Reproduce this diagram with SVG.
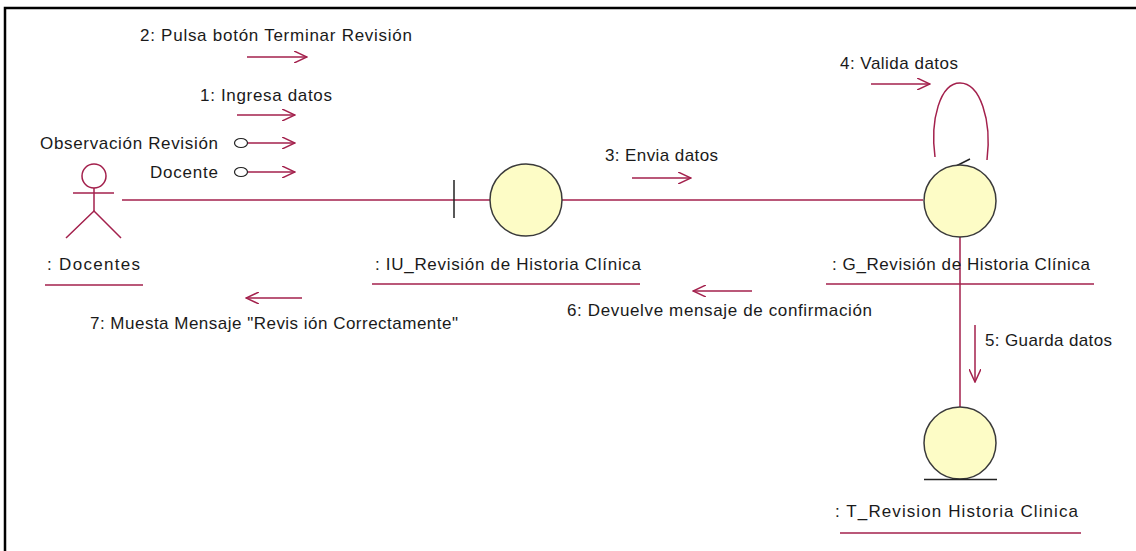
<svg xmlns="http://www.w3.org/2000/svg" width="1136" height="551" viewBox="0 0 1136 551">
<defs>
<style>
.t{font-family:"Liberation Sans",Arial,sans-serif;font-size:17px;fill:#1a1a1a}
.c{stroke:#a3204c;stroke-width:1.5;fill:none}
.o{fill:#fdfcc6;stroke:#3a3a3a;stroke-width:1.5}
.k{stroke:#222;stroke-width:1.5;fill:none}
</style>
<marker id="ah" viewBox="0 0 14 12" refX="13" refY="6" markerWidth="14" markerHeight="12" markerUnits="userSpaceOnUse" orient="auto">
<path d="M0,0 L13,6 L0,12" fill="none" stroke="#a3204c" stroke-width="1.5"/>
</marker>
</defs>
<rect width="1136" height="551" fill="#fff"/>
<path d="M5,551 V8 H1136" fill="none" stroke="#000" stroke-width="2.5"/>

<g id="connectors">
<line class="c" x1="122" y1="200" x2="454" y2="200"/>
<line class="c" x1="454" y1="200" x2="490" y2="200"/>
<line class="c" x1="562" y1="200" x2="923" y2="200"/>
<line class="c" x1="960" y1="236" x2="960" y2="407"/>
<path class="c" d="M935,157 C930,120 940,83 960,83 C980,83 992,120 987,160"/>
<path class="k" d="M970,159 L956,166 L969,172"/>
</g>

<g id="messages">
<text class="t" x="140" y="41" textLength="272" lengthAdjust="spacing">2: Pulsa botón Terminar Revisión</text>
<line class="c" x1="247" y1="57" x2="307" y2="57" marker-end="url(#ah)"/>
<text class="t" x="200" y="101" textLength="132" lengthAdjust="spacing">1: Ingresa datos</text>
<line class="c" x1="237" y1="115" x2="295" y2="115" marker-end="url(#ah)"/>
<text class="t" x="40" y="149" textLength="178" lengthAdjust="spacing">Observación Revisión</text>
<ellipse cx="241" cy="143" rx="6.5" ry="4.5" fill="#fff" stroke="#222" stroke-width="1.2"/>
<line class="c" x1="248" y1="143" x2="295" y2="143" marker-end="url(#ah)"/>
<text class="t" x="150" y="178" textLength="68" lengthAdjust="spacing">Docente</text>
<ellipse cx="241" cy="172" rx="6.5" ry="4.5" fill="#fff" stroke="#222" stroke-width="1.2"/>
<line class="c" x1="248" y1="172" x2="295" y2="172" marker-end="url(#ah)"/>
<text class="t" x="605" y="161" textLength="113" lengthAdjust="spacing">3: Envia datos</text>
<line class="c" x1="632" y1="178" x2="691" y2="178" marker-end="url(#ah)"/>
<text class="t" x="840" y="69" textLength="118" lengthAdjust="spacing">4: Valida datos</text>
<line class="c" x1="871" y1="84" x2="930" y2="84" marker-end="url(#ah)"/>
<text class="t" x="567" y="316" textLength="305" lengthAdjust="spacing">6: Devuelve mensaje de confirmación</text>
<line class="c" x1="752" y1="291" x2="693" y2="291" marker-end="url(#ah)"/>
<text class="t" x="90" y="329" textLength="368" lengthAdjust="spacing">7: Muesta Mensaje "Revis ión Correctamente"</text>
<line class="c" x1="302" y1="298" x2="246" y2="298" marker-end="url(#ah)"/>
<text class="t" x="985" y="346" textLength="127" lengthAdjust="spacing">5: Guarda datos</text>
<line class="c" x1="975" y1="325" x2="975" y2="382" marker-end="url(#ah)"/>
</g>

<g id="docentes">
<circle class="c" cx="94" cy="176" r="12"/>
<line class="c" x1="94" y1="188" x2="94" y2="211"/>
<line class="c" x1="73" y1="193" x2="114" y2="193"/>
<path class="c" d="M66,238 L94,211 L121,238"/>
<text class="t" x="47" y="270" textLength="93" lengthAdjust="spacing">: Docentes</text>
<line class="c" x1="45" y1="285" x2="143" y2="285"/>
</g>

<g id="iu_revision">
<line class="k" x1="454" y1="180" x2="454" y2="218"/>
<circle class="o" cx="526" cy="200" r="36"/>
<text class="t" x="375" y="270" textLength="266" lengthAdjust="spacing">: IU_Revisión de Historia Clínica</text>
<line class="c" x1="372" y1="284" x2="640" y2="284"/>
</g>

<g id="g_revision">
<circle class="o" cx="960" cy="201" r="36"/>
<text class="t" x="832" y="270" textLength="258" lengthAdjust="spacing">: G_Revisión de Historia Clínica</text>
<line class="c" x1="826" y1="284" x2="1094" y2="284"/>
</g>

<g id="t_revision">
<circle class="o" cx="960" cy="443" r="36"/>
<line class="k" x1="924" y1="479.5" x2="997" y2="479.5"/>
<text class="t" x="835" y="517" textLength="243" lengthAdjust="spacing">: T_Revision Historia Clinica</text>
<line class="c" x1="840" y1="533" x2="1081" y2="533"/>
</g>
</svg>
